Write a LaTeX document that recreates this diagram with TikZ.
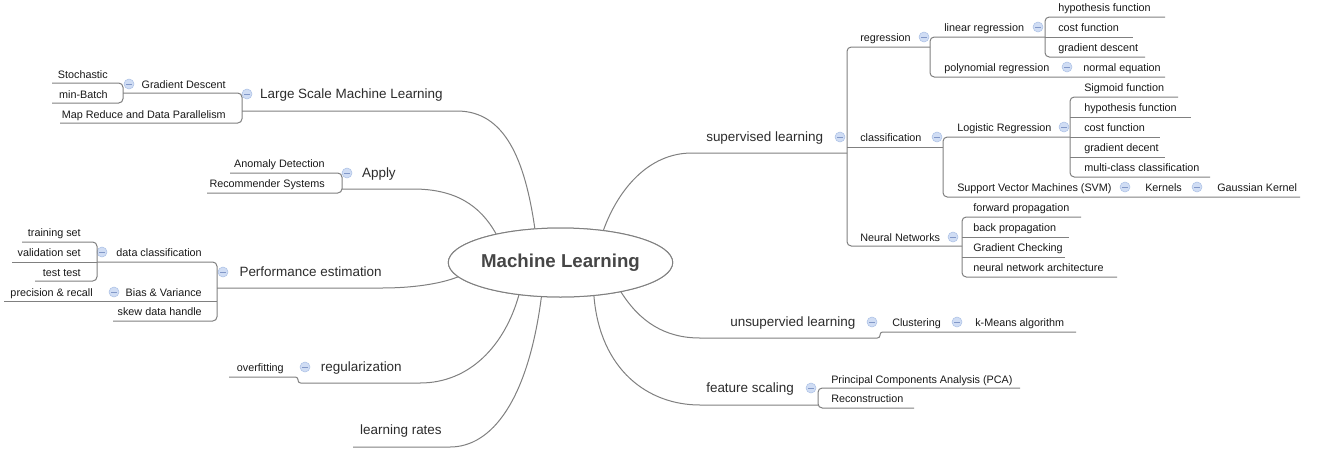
\documentclass[tikz,border=0pt]{standalone}
\usepackage{fontspec}
\setmainfont{Liberation Sans}
\usetikzlibrary{calc,shapes.geometric}

\definecolor{linegray}{RGB}{128,128,128}
\definecolor{inkSub}{RGB}{25,25,25}
\definecolor{inkTopic}{RGB}{45,45,45}
\definecolor{inkRoot}{RGB}{70,70,70}
\definecolor{dotfill}{RGB}{208,221,244}
\definecolor{dotdraw}{RGB}{172,193,230}
\definecolor{dotbar}{RGB}{130,152,200}

\tikzset{
  conn/.style={draw=linegray, line width=0.75pt},
  tree/.style={conn, rounded corners=3.2pt},
  sub/.style={inner sep=0pt, font=\fontsize{8.1}{9}\selectfont, text=inkSub,
              text height=1.6ex, text depth=0.45ex},
  subR/.style={sub, anchor=west},
  subL/.style={sub, anchor=east},
  topic/.style={inner sep=0pt, font=\fontsize{10.1}{12}\selectfont, text=inkTopic,
                text height=1.6ex, text depth=0.45ex},
  topicR/.style={topic, anchor=west},
  topicL/.style={topic, anchor=east},
  fold/.style={circle, draw=dotdraw, fill=dotfill, line width=0.4pt,
               minimum size=7.5pt, inner sep=0pt,
               path picture={\draw[dotbar, line width=0.6pt]
                 ($(path picture bounding box.center)+(-2pt,0)$) --
                 ($(path picture bounding box.center)+(2pt,0)$);}},
  root/.style={ellipse, draw=linegray, line width=0.75pt, fill=white,
               minimum width=162.75pt, minimum height=51.75pt, inner sep=0pt,
               font=\bfseries\fontsize{14}{16}\selectfont, text=inkRoot},
}

\begin{document}
\begin{tikzpicture}[x=0.75pt, y=-0.75pt]
\useasboundingbox (0,0) rectangle (1323,461);
\fill[white] (0,0) rectangle (1323,461);

% ---------- root ----------
\node[root] (ml) at (560.5,262.5) {Machine Learning};

% ---------- right: supervised learning ----------
\node[topicR] (sup) at (706,137) {supervised learning};
\node[fold] (f-sup) at (840,137) {};
\node[subR] (reg) at (860,37) {regression};
\node[fold] (f-reg) at (924,37) {};
\node[subR] (linreg) at (944,27) {linear regression};
\node[fold] (f-linreg) at (1038,27) {};
\node[subR] (hypA) at (1058,7) {hypothesis function};
\node[subR] (costA) at (1058,27) {cost function};
\node[subR] (gdA) at (1058,47) {gradient descent};
\node[subR] (poly) at (944,67) {polynomial regression};
\node[fold] (f-poly) at (1067,67) {};
\node[subR] (normeq) at (1083,67) {normal equation};

\node[subR] (cls) at (860,137) {classification};
\node[fold] (f-cls) at (937,137) {};
\node[subR] (logreg) at (957,127) {Logistic Regression};
\node[fold] (f-logreg) at (1064,127) {};
\node[subR] (sig) at (1084,87) {Sigmoid function};
\node[subR] (hypB) at (1084,107) {hypothesis function};
\node[subR] (costB) at (1084,127) {cost function};
\node[subR] (gdB) at (1084,147) {gradient decent};
\node[subR] (multi) at (1084,167) {multi-class classification};
\node[subR] (svm) at (957,187) {Support Vector Machines (SVM)};
\node[fold] (f-svm) at (1125,187) {};
\node[subR] (kern) at (1145,187) {Kernels};
\node[fold] (f-kern) at (1197,187) {};
\node[subR] (gauss) at (1217,187) {Gaussian Kernel};

\node[subR] (nn) at (860,237) {Neural Networks};
\node[fold] (f-nn) at (953,237) {};
\node[subR] (fwd) at (973,207) {forward propagation};
\node[subR] (back) at (973,227) {back propagation};
\node[subR] (gcheck) at (973,247) {Gradient Checking};
\node[subR] (nnarch) at (973,267) {neural network architecture};

% ---------- right: unsupervised / feature scaling ----------
\node[topicR] (unsup) at (730,322) {unsupervied learning};
\node[fold] (f-unsup) at (872,322) {};
\node[subR] (clus) at (892,322) {Clustering};
\node[fold] (f-clus) at (957,322) {};
\node[subR] (kmeans) at (975,322) {k-Means algorithm};

\node[topicR] (fs) at (706,388) {feature scaling};
\node[fold] (f-fs) at (811,388) {};
\node[subR] (pca) at (831,379) {Principal Components Analysis (PCA)};
\node[subR] (recon) at (831,398) {Reconstruction};

% ---------- left side ----------
\node[topicL] (lsml) at (443,94) {Large Scale Machine Learning};
\node[fold] (f-lsml) at (247,94) {};
\node[subL] (gdesc) at (226,84) {Gradient Descent};
\node[fold] (f-gdesc) at (129,84) {};
\node[subL] (stoch) at (108,74) {Stochastic};
\node[subL] (minib) at (108,94) {min-Batch};
\node[subL] (mapred) at (226,114) {Map Reduce and Data Parallelism};

\node[topicL] (apply) at (396,173) {Apply};
\node[fold] (f-apply) at (347,173) {};
\node[subL] (anom) at (325,163) {Anomaly Detection};
\node[subL] (recsys) at (325,183) {Recommender Systems};

\node[topicL] (perf) at (382,272) {Performance estimation};
\node[fold] (f-perf) at (223,272) {};
\node[subL] (dclass) at (202,252) {data classification};
\node[fold] (f-dclass) at (102,252) {};
\node[subL] (train) at (81,232) {training set};
\node[subL] (valid) at (81,252) {validation set};
\node[subL] (testt) at (81,272) {test test};
\node[subL] (biasv) at (202,292) {Bias \& Variance};
\node[fold] (f-biasv) at (114,292) {};
\node[subL] (prec) at (93,292) {precision \& recall};
\node[subL] (skew) at (202,311) {skew data handle};

\node[topicL] (regu) at (402,367) {regularization};
\node[fold] (f-regu) at (305,367) {};
\node[subL] (overf) at (284,367) {overfitting};

\node[topicL] (lrates) at (442,430) {learning rates};

% ---------- connectors: right ----------
\coordinate (sup-in) at (692,153);
\draw[conn] (ml.37) .. controls (618,190) and (648,153) .. (sup-in) -- (847,153);
\draw[tree] (930,47) -- (847,47) -- (847,246) -- (962,246);
\draw[conn] (847,147) -- (943,147);
\draw[tree] (1045,37) -- (930,37) -- (930,77) -- (1165,77);
\draw[tree] (1165,17) -- (1045,17) -- (1045,57) -- (1145,57);
\draw[conn] (1045,37) -- (1133,37);
\draw[tree] (1070,137) -- (943,137) -- (943,197) -- (1300,197);
\draw[tree] (1178,97) -- (1070,97) -- (1070,177) -- (1210,177);
\draw[conn] (1070,117) -- (1191,117);
\draw[conn] (1070,137) -- (1160,137);
\draw[conn] (1070,157) -- (1165,157);
\draw[tree] (1081,217) -- (962,217) -- (962,277) -- (1117,277);
\draw[conn] (962,237) -- (1069,237);
\draw[conn] (962,257) -- (1065,257);

\coordinate (uns-in) at (700,338);
\draw[conn] (ml.334) .. controls (640,322) and (665,338) .. (uns-in);
\draw[conn, rounded corners=2pt] (uns-in) -- (880,338) -- (880,332) -- (1076,332);

\coordinate (fs-in) at (700,405);
\draw[conn] (ml.315) .. controls (600,370) and (648,405) .. (fs-in) -- (818,405);
\draw[tree] (1020,388) -- (818,388) -- (818,408) -- (914,408);

% ---------- connectors: left ----------
\coordinate (lsml-in) at (457,111);
\draw[conn] (ml.127) .. controls (525,160) and (505,111) .. (lsml-in) -- (242,111);
\draw[tree] (123,93) -- (242,93) -- (242,123) -- (60,123);
\draw[tree] (52,83) -- (123,83) -- (123,103) -- (52,103);

\coordinate (apply-in) at (413,189);
\draw[conn] (ml.156) .. controls (480,205) and (455,189) .. (apply-in) -- (342,189);
\draw[tree] (230,173) -- (342,173) -- (342,193) -- (207,193);

\coordinate (perf-in) at (382,288);
\draw[conn] (ml.188) .. controls (440,284) and (412,288) .. (perf-in) -- (217,288);
\draw[tree] (97,262) -- (217,262) -- (217,321) -- (113,321);
\draw[conn] (4,301) -- (217,301);
\draw[tree] (22,242) -- (97,242) -- (97,281) -- (35,281);
\draw[conn] (12,262) -- (97,262);

\coordinate (regu-in) at (420,383);
\draw[conn] (ml.218) .. controls (505,345) and (470,383) .. (regu-in);
\draw[conn, rounded corners=2pt] (regu-in) -- (298,383) -- (298,377) -- (229,377);

\coordinate (lr-in) at (450,447);
\draw[conn] (ml.241) .. controls (528,400) and (492,447) .. (lr-in) -- (353,447);

% root drawn again on top so curve ends tuck under its border
\node[root] at (ml.center) {Machine Learning};
\end{tikzpicture}
\end{document}
